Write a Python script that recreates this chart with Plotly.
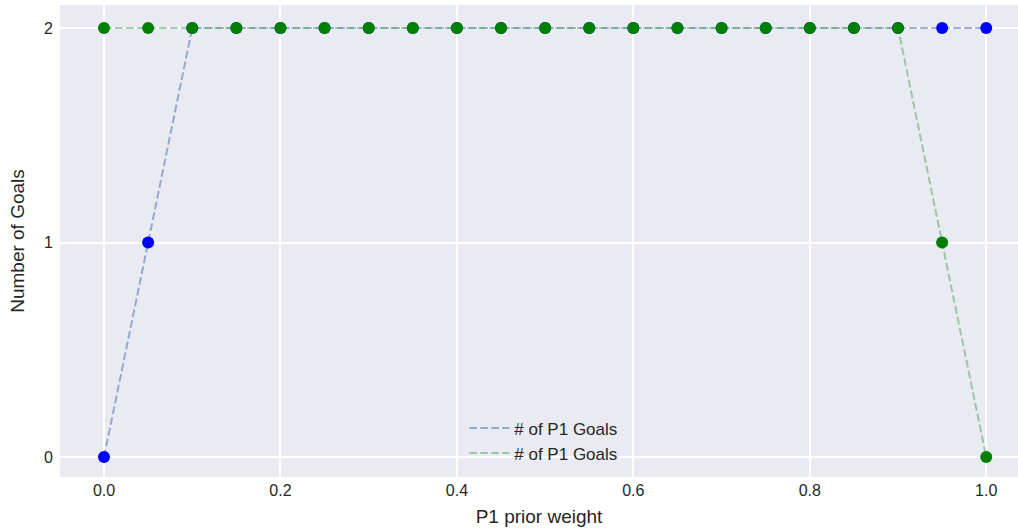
import plotly.graph_objects as go

weights = [0.0, 0.05, 0.1, 0.15, 0.2, 0.25, 0.3, 0.35, 0.4, 0.45, 0.5,
           0.55, 0.6, 0.65, 0.7, 0.75, 0.8, 0.85, 0.9, 0.95, 1.0]
p1_goals = [0, 1, 2, 2, 2, 2, 2, 2, 2, 2, 2, 2, 2, 2, 2, 2, 2, 2, 2, 2, 2]
p2_goals = [2, 2, 2, 2, 2, 2, 2, 2, 2, 2, 2, 2, 2, 2, 2, 2, 2, 2, 2, 1, 0]
legend_labels = ["# of P1 Goals", "# of P1 Goals"]
x_ticks = [0.0, 0.2, 0.4, 0.6, 0.8, 1.0]
y_ticks = [0, 1, 2]

fig = go.Figure()
fig.add_trace(go.Scatter(x=weights, y=p1_goals, mode="lines", name=legend_labels[0],
                         line=dict(color="rgba(76,114,176,0.55)", width=2, dash="7.7px,3.3px")))
fig.add_trace(go.Scatter(x=weights, y=p1_goals, mode="markers", showlegend=False,
                         marker=dict(color="#0000ff", size=12)))
fig.add_trace(go.Scatter(x=weights, y=p2_goals, mode="lines", name=legend_labels[1],
                         line=dict(color="rgba(85,168,104,0.55)", width=2, dash="7.7px,3.3px")))
fig.add_trace(go.Scatter(x=weights, y=p2_goals, mode="markers", showlegend=False,
                         marker=dict(color="#008000", size=12)))

font_family = "Liberation Sans, Arial, sans-serif"
fig.update_layout(
    width=1018, height=531,
    margin=dict(l=60, r=0, t=5, b=54),
    paper_bgcolor="white", plot_bgcolor="#eaeaf2",
    font=dict(family=font_family, size=16, color="#262626"),
    legend=dict(x=0.505, xanchor="center", y=0.012, yanchor="bottom",
                bgcolor="rgba(0,0,0,0)", font=dict(size=17, color="#262626"),
                tracegroupgap=0, itemwidth=40),
    xaxis=dict(range=[-0.0499, 1.036], tickvals=x_ticks, ticktext=[f"{v:.1f}" for v in x_ticks],
               showgrid=True, gridcolor="white", gridwidth=1.5, zeroline=False,
               showline=False, ticks="", ticklabelstandoff=2,
               title=dict(text="P1 prior weight", standoff=11, font=dict(size=19)),
               tickfont=dict(size=16, color="#262626")),
    yaxis=dict(range=[-0.093, 2.107], tickvals=y_ticks, ticktext=[str(v) for v in y_ticks],
               showgrid=True, gridcolor="white", gridwidth=1.5, zeroline=False,
               showline=False, ticks="", ticklabelstandoff=6,
               title=dict(text="Number of Goals", standoff=14, font=dict(size=19)),
               tickfont=dict(size=16, color="#262626")),
)

fig.write_html("out.html", config={"displayModeBar": False},
               post_script="document.body.style.margin='0px';document.body.style.padding='0px';")
